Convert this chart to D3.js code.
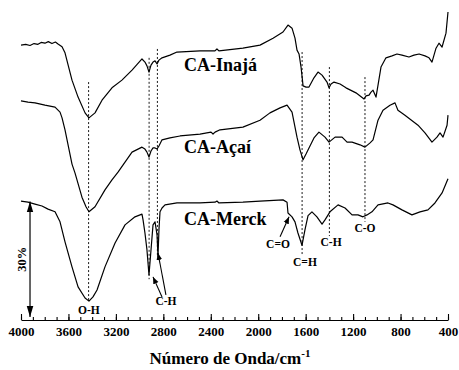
<!DOCTYPE html>
<html>
<head>
<meta charset="utf-8">
<script src="https://cdn.jsdelivr.net/npm/d3@7"></script>
<style>
  body { margin: 0; background: #fff; }
  svg { display: block; }
  text { font-family: "Liberation Serif", "Times New Roman", serif; font-weight: bold; fill: #000; }
</style>
</head>
<body>
<div id="chart"></div>
<script>
// FTIR spectra, wavenumber (cm-1) vs transmittance (%)
const inajaWave = [4000,3960,3924,3890,3857,3830,3798,3770,3739,3710,3688,3654,3629,3570,3519,3460,3427,3376,3317,3233,3149,3064,2980,2955,2938,2921,2904,2887,2870,2853,2837,2811,2744,2685,2491,2365,2348,2331,2129,1985,1875,1791,1749,1715,1690,1673,1656,1639,1622,1597,1572,1530,1496,1462,1420,1403,1386,1361,1310,1260,1176,1108,1091,1066,1049,1032,1007,990,965,923,872,830,788,729,687,644,594,560,535,501,476,450,417,400];
const inajaT = [71.4,71.6,71.3,71.8,71.6,72.1,71.9,72.3,71.8,72.2,71.7,71.0,69.4,62.3,57.9,53.8,52.5,53.8,57.1,60.3,62.3,64.9,67.8,67.0,66.0,64.4,66.2,67.0,67.3,66.5,67.5,68.1,68.8,69.6,69.9,69.9,70.4,69.9,70.6,71.4,73.2,74.8,76.6,75.8,73.2,70.1,69.1,65.7,60.8,60.5,60.5,62.9,64.4,63.6,61.8,60.3,61.3,61.8,61.3,60.3,59.0,57.4,58.2,58.4,59.2,59.7,57.9,61.0,65.7,68.1,68.6,69.1,68.8,68.3,68.8,69.1,68.6,68.1,67.0,70.6,71.9,70.9,74.5,80.0];

const acaiWave = [4000,3941,3882,3798,3713,3671,3654,3629,3570,3545,3486,3452,3427,3376,3292,3233,3182,3123,3064,2980,2955,2938,2921,2904,2887,2870,2853,2837,2811,2744,2659,2491,2398,2381,2364,2322,2129,1985,1901,1816,1757,1715,1673,1648,1622,1597,1572,1530,1488,1437,1403,1352,1293,1251,1209,1142,1100,1057,1032,990,948,889,847,822,763,653,594,535,493,467,442,408,400];
const acaiT = [56.9,56.6,56.4,55.8,55.3,54.0,52.5,49.4,40.5,38.2,31.9,29.4,28.1,29.4,33.8,36.4,38.4,41.0,43.6,44.9,44.4,43.6,42.3,43.9,44.7,44.7,44.4,45.2,46.8,47.3,47.8,48.3,48.8,48.3,48.8,49.4,50.1,51.9,53.8,55.1,55.8,54.0,47.5,44.2,41.6,43.1,44.7,47.3,48.8,47.5,46.2,47.5,47.5,46.2,46.2,45.5,44.9,46.0,46.8,51.9,54.5,55.8,56.4,54.5,53.2,50.6,48.6,46.2,47.5,48.6,47.5,50.6,53.2];

const merckWave = [4000,3941,3882,3823,3772,3713,3671,3629,3570,3519,3460,3427,3393,3359,3292,3207,3123,3039,2980,2971,2955,2938,2921,2904,2887,2870,2853,2845,2837,2828,2811,2786,2685,2491,2364,2348,2331,2129,1985,1791,1757,1749,1715,1690,1665,1631,1606,1580,1547,1505,1462,1437,1395,1327,1268,1209,1159,1117,1083,1041,990,906,864,788,704,636,569,510,450,400];
const merckT = [30.9,30.6,30.1,29.6,28.8,28.1,25.5,20.3,13.8,8.6,5.7,4.9,6.0,7.8,13.8,20.0,24.7,26.8,27.5,26.0,22.6,18.2,11.7,18.2,24.7,25.5,22.1,16.5,23.4,28.1,29.1,29.9,30.4,30.4,30.6,30.9,30.4,30.6,30.9,31.2,30.6,27.8,26.8,25.5,22.6,19.4,23.4,27.1,28.1,26.8,24.9,26.0,28.1,29.9,29.1,27.3,27.3,26.8,27.3,28.1,29.9,30.4,29.9,28.6,27.3,28.1,28.6,30.4,33.0,36.7];

const seriesNames = ["CA-Inajá", "CA-Açaí", "CA-Merck"];
const seriesLabelAt = [[2626, 64.7], [2626, 43.4], [2626, 24.7]];

// band markers: wavenumber, top and bottom of the dotted line
const bandWave = [3430, 2920, 2850, 1630, 1400, 1100];
const bandTop = [61.8, 68.1, 70.4, 69.6, 65.7, 63.1];
const bandBottom = [5.2, 10.6, 16.9, 16.9, 21.8, 25.5];

const bandLabels = ["O-H", "C-H", "C=O", "C=H", "C-H", "C-O"];
const bandLabelAt = [[3427, 1.6], [2778, 3.9], [1833, 18.7], [1606, 14.0], [1386, 19.2], [1100, 22.9]];
// arrows: [fromWave, fromT, toWave, toT]
const bandArrows = [[2811, 6.0, 2887, 11.2], [2778, 6.5, 2845, 17.4], [1816, 21.6, 1740, 26.8]];

const majorTicks = [4000, 3600, 3200, 2800, 2400, 2000, 1600, 1200, 800, 400];

const width = 459, height = 370;

const svg = d3.select("#chart").append("svg")
    .attr("width", width)
    .attr("height", height);

const x = d3.scaleLinear().domain([4000, 400]).range([21, 448]);
const y = d3.scaleLinear().domain([0, 80]).range([320, 12]);

const defs = svg.append("defs");
defs.append("marker")
    .attr("id", "head")
    .attr("viewBox", "0 0 10 10")
    .attr("refX", 10).attr("refY", 5)
    .attr("markerWidth", 7).attr("markerHeight", 7)
    .attr("markerUnits", "userSpaceOnUse")
    .attr("orient", "auto")
    .append("path")
    .attr("d", "M0,1L10,5L0,9Z")
    .attr("fill", "#000");
defs.append("marker")
    .attr("id", "bigHead")
    .attr("viewBox", "0 0 10 10")
    .attr("refX", 10).attr("refY", 5)
    .attr("markerWidth", 11).attr("markerHeight", 11)
    .attr("markerUnits", "userSpaceOnUse")
    .attr("orient", "auto-start-reverse")
    .append("path")
    .attr("d", "M0,2L10,5L0,8Z")
    .attr("fill", "#000");

// dotted band lines
svg.append("g")
    .selectAll("line")
    .data(bandWave)
    .join("line")
    .attr("x1", d => x(d)).attr("x2", d => x(d))
    .attr("y1", (d, i) => y(bandTop[i]))
    .attr("y2", (d, i) => y(bandBottom[i]))
    .attr("stroke", "#000")
    .attr("stroke-width", 0.9)
    .attr("stroke-dasharray", "2,2");

// spectra
const line = d3.line()
    .x(d => x(d[0]))
    .y(d => y(d[1]));

const spectra = [
    d3.zip(inajaWave, inajaT),
    d3.zip(acaiWave, acaiT),
    d3.zip(merckWave, merckT)
];

svg.append("g")
    .selectAll("path")
    .data(spectra)
    .join("path")
    .attr("d", line)
    .attr("fill", "none")
    .attr("stroke", "#000")
    .attr("stroke-width", 1.2)
    .attr("stroke-linejoin", "round");

// series names
svg.append("g")
    .selectAll("text")
    .data(seriesNames)
    .join("text")
    .attr("x", (d, i) => x(seriesLabelAt[i][0]))
    .attr("y", (d, i) => y(seriesLabelAt[i][1]))
    .attr("font-size", 18)
    .text(d => d);

// band labels
svg.append("g")
    .selectAll("text")
    .data(bandLabels)
    .join("text")
    .attr("x", (d, i) => x(bandLabelAt[i][0]))
    .attr("y", (d, i) => y(bandLabelAt[i][1]))
    .attr("text-anchor", "middle")
    .attr("font-size", 11.5)
    .text(d => d);

// arrows
svg.append("g")
    .selectAll("line")
    .data(bandArrows)
    .join("line")
    .attr("x1", d => x(d[0])).attr("y1", d => y(d[1]))
    .attr("x2", d => x(d[2])).attr("y2", d => y(d[3]))
    .attr("stroke", "#000")
    .attr("stroke-width", 1.1)
    .attr("marker-end", "url(#head)");

// 30% scale bar
const barWave = 3924, barBase = 0.8;
svg.append("line")
    .attr("x1", x(barWave)).attr("x2", x(barWave))
    .attr("y1", y(barBase)).attr("y2", y(barBase + 30))
    .attr("stroke", "#000")
    .attr("stroke-width", 1.2)
    .attr("marker-start", "url(#bigHead)")
    .attr("marker-end", "url(#bigHead)");

svg.append("text")
    .attr("transform", `translate(${x(barWave) - 4},${y(barBase + 15)}) rotate(-90)`)
    .attr("text-anchor", "middle")
    .attr("font-size", 12.5)
    .text("30%");

// x axis
const axisG = svg.append("g").attr("transform", `translate(0,${y(0)})`);

axisG.append("g")
    .call(d3.axisBottom(x).tickValues(d3.range(400, 4001, 100)).tickSize(-3).tickFormat(""))
    .call(g => g.select(".domain").remove());

axisG.append("g")
    .call(d3.axisBottom(x).tickValues(majorTicks).tickSizeInner(-6).tickSizeOuter(0).tickPadding(7).tickFormat(d3.format("d")))
    .call(g => g.selectAll("text").attr("font-size", 13).attr("font-family", null))
    .call(g => g.select(".domain").attr("stroke-width", 1.2));

axisG.selectAll(".tick line").attr("stroke-width", 1.1);

const title = svg.append("text")
    .attr("x", 230)
    .attr("y", 364)
    .attr("text-anchor", "middle")
    .attr("font-size", 17);
title.append("tspan").text("Número de Onda/cm");
title.append("tspan").attr("dy", -7).attr("font-size", 11).text("-1");
</script>
</body>
</html>
